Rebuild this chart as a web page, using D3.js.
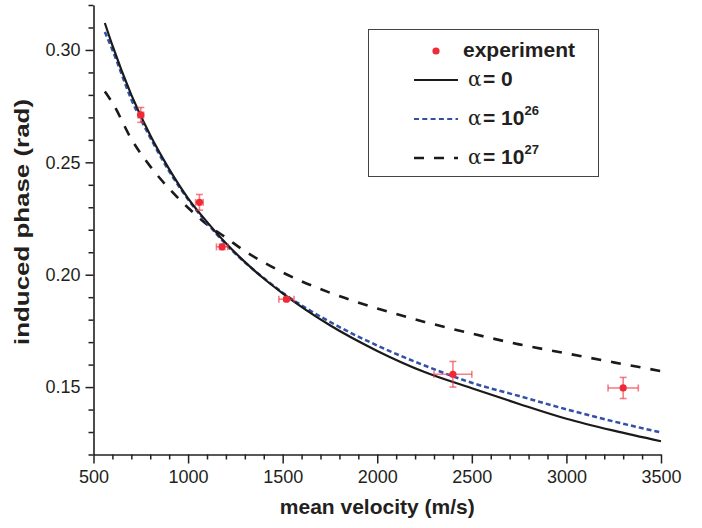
<!DOCTYPE html>
<html><head><meta charset="utf-8">
<script src="https://cdn.jsdelivr.net/npm/d3@7"></script>
<style>
html,body{margin:0;padding:0;background:#fff;}
svg{display:block;}
text{font-family:"Liberation Sans",Arial,sans-serif;fill:#231f20;}
</style></head>
<body>
<svg id="chart" width="702" height="528"></svg>
<script>
// ---- data ----
const velocities = [560, 600, 700, 800, 900, 1000, 1100, 1200, 1300, 1400, 1500, 1750, 2000, 2250, 2500, 2750, 3000, 3250, 3500];
const phaseAlpha0 = [0.312, 0.302, 0.280, 0.262, 0.247, 0.234, 0.2235, 0.214, 0.2057, 0.1983, 0.1917, 0.1775, 0.1661, 0.1567, 0.1495, 0.1425, 0.1359, 0.1306, 0.1259];
const phaseAlpha1e26 = [0.308, 0.300, 0.278, 0.261, 0.246, 0.2335, 0.223, 0.2135, 0.2055, 0.1985, 0.1920, 0.1790, 0.1685, 0.1596, 0.1519, 0.1460, 0.1401, 0.1347, 0.1298];
const phaseAlpha1e27 = [0.2815, 0.2765, 0.2604, 0.2482, 0.2383, 0.2298, 0.2224, 0.2165, 0.2105, 0.2055, 0.2010, 0.1920, 0.1850, 0.1790, 0.1738, 0.1690, 0.1650, 0.1610, 0.1571];

const expVelocity = [750, 1060, 1180, 1520, 2400, 3300];
const expPhase = [0.2711, 0.2322, 0.2124, 0.1891, 0.1557, 0.1496];
const expVelErr = [15, 20, 30, 40, 100, 80];
const expPhaseErr = [0.0033, 0.0035, 0.0012, 0.0008, 0.0057, 0.0047];

const xMajorTicks = [500, 1000, 1500, 2000, 2500, 3000, 3500];
const yMajorTicks = [0.15, 0.20, 0.25, 0.30];
const xTitle = "mean velocity (m/s)";
const yTitle = "induced phase (rad)";
const legendNames = ["experiment", "0", "10", "10"];
const legendSup = ["", "", "26", "27"];

// ---- drawing ----
const svg = d3.select("#chart");
const x = d3.scaleLinear().domain([500, 3500]).range([93.5, 661]);
const y = d3.scaleLinear().domain([0.12, 0.32]).range([454.5, 5]);

const xMinor = d3.range(500, 3501, 100).filter(v => v % 500 !== 0);
const yMinor = d3.range(12, 33, 1).map(v => v / 100).filter(v => !yMajorTicks.some(t => Math.abs(t - v) < 1e-9));

const axisColor = "#231f20";
function styleAxis(g) {
  g.selectAll("path.domain").attr("stroke", axisColor).attr("stroke-width", 1.6);
  g.selectAll(".tick line").attr("stroke", axisColor).attr("stroke-width", 1.5);
  g.selectAll(".tick text").style("font-family", '"Liberation Sans",Arial,sans-serif')
    .style("font-size", "18px").attr("fill", axisColor);
}

// x axis
const gx = svg.append("g").attr("transform", `translate(0,${y(0.12)})`);
gx.call(d3.axisBottom(x).tickValues(xMajorTicks).tickFormat(d3.format("d")).tickSize(9).tickSizeOuter(0).tickPadding(7));
styleAxis(gx);
const gxm = svg.append("g").attr("transform", `translate(0,${y(0.12)})`);
gxm.call(d3.axisBottom(x).tickValues(xMinor).tickFormat("").tickSize(5).tickSizeOuter(0));
gxm.select("path.domain").remove();
styleAxis(gxm);

// y axis
const gy = svg.append("g").attr("transform", `translate(${x(500)},0)`);
gy.call(d3.axisLeft(y).tickValues(yMajorTicks).tickFormat(d3.format(".2f")).tickSize(8).tickSizeOuter(0).tickPadding(5));
styleAxis(gy);
const gym = svg.append("g").attr("transform", `translate(${x(500)},0)`);
gym.call(d3.axisLeft(y).tickValues(yMinor).tickFormat("").tickSize(5).tickSizeOuter(0));
gym.select("path.domain").remove();
styleAxis(gym);

// titles
svg.append("text").attr("x", (x(500) + x(3500)) / 2).attr("y", 514)
  .attr("text-anchor", "middle").style("font-weight", "bold").style("font-size", "21px").text(xTitle);
svg.append("text").attr("transform", `translate(29,${222})rotate(-90)`)
  .attr("text-anchor", "middle").style("font-weight", "bold").style("font-size", "20px")
  .attr("textLength", 246).attr("lengthAdjust", "spacingAndGlyphs").text(yTitle);

// curves
const line = d3.line().x((d, i) => x(velocities[i])).y(d => y(d)).curve(d3.curveMonotoneX);
svg.append("path").datum(phaseAlpha1e27).attr("d", line).attr("fill", "none")
  .attr("stroke", "#1a1a1a").attr("stroke-width", 2.6).attr("stroke-dasharray", "10,10");
svg.append("path").datum(phaseAlpha1e26).attr("d", line).attr("fill", "none")
  .attr("stroke", "#3350a8").attr("stroke-width", 2.5).attr("stroke-dasharray", "5,3");
svg.append("path").datum(phaseAlpha0).attr("d", line).attr("fill", "none")
  .attr("stroke", "#1a1a1a").attr("stroke-width", 2.2);

// experiment points with error bars
const errColor = "rgba(238,60,70,0.65)";
const pts = svg.append("g");
expVelocity.forEach((v, i) => {
  const cx = x(v), cy = y(expPhase[i]);
  const x0 = x(v - expVelErr[i]), x1 = x(v + expVelErr[i]);
  const y0 = y(expPhase[i] - expPhaseErr[i]), y1 = y(expPhase[i] + expPhaseErr[i]);
  const g = pts.append("g").attr("stroke", errColor).attr("stroke-width", 1.6);
  g.append("line").attr("x1", x0).attr("x2", x1).attr("y1", cy).attr("y2", cy);
  g.append("line").attr("x1", x0).attr("x2", x0).attr("y1", cy - 3.5).attr("y2", cy + 3.5);
  g.append("line").attr("x1", x1).attr("x2", x1).attr("y1", cy - 3.5).attr("y2", cy + 3.5);
  g.append("line").attr("x1", cx).attr("x2", cx).attr("y1", y0).attr("y2", y1);
  g.append("line").attr("x1", cx - 3.5).attr("x2", cx + 3.5).attr("y1", y0).attr("y2", y0);
  g.append("line").attr("x1", cx - 3.5).attr("x2", cx + 3.5).attr("y1", y1).attr("y2", y1);
  pts.append("circle").attr("cx", cx).attr("cy", cy).attr("r", 3.6).attr("fill", "#ee2a36");
});

// legend
const lg = svg.append("g");
lg.append("rect").attr("x", 368.5).attr("y", 29.5).attr("width", 230).attr("height", 147)
  .attr("fill", "#fff").attr("stroke", "#444").attr("stroke-width", 1);
const rowsY = [51, 80, 119, 158];
const sampleStyles = [null,
  {stroke: "#1a1a1a", w: 2.2, dash: null},
  {stroke: "#3350a8", w: 2.2, dash: "5,3.3"},
  {stroke: "#1a1a1a", w: 2.4, dash: "10,10"}];
legendNames.forEach((name, i) => {
  const ry = rowsY[i];
  if (i === 0) {
    lg.append("circle").attr("cx", 436).attr("cy", ry).attr("r", 3.6).attr("fill", "#ee2a36");
    lg.append("text").attr("x", 463).attr("y", ry + 6).style("font-weight", "bold").style("font-size", "21px").text(name);
  } else {
    const s = sampleStyles[i];
    const l = lg.append("line").attr("x1", 414).attr("x2", 458).attr("y1", ry).attr("y2", ry)
      .attr("stroke", s.stroke).attr("stroke-width", s.w);
    if (s.dash) l.attr("stroke-dasharray", s.dash);
    lg.append("text").attr("x", 468).attr("y", ry + 6)
      .style("font-family", '"DejaVu Serif","Liberation Serif",serif').style("font-size", "20px").text("α");
    const t = lg.append("text").attr("x", 483).attr("y", ry + 6).style("font-weight", "bold").style("font-size", "21px");
    t.append("tspan").text("= " + name);
    if (legendSup[i]) {
      t.append("tspan").attr("dy", -10).attr("dx", 0).style("font-size", "13px").text(legendSup[i]);
    }
  }
});
</script>
</body></html>
